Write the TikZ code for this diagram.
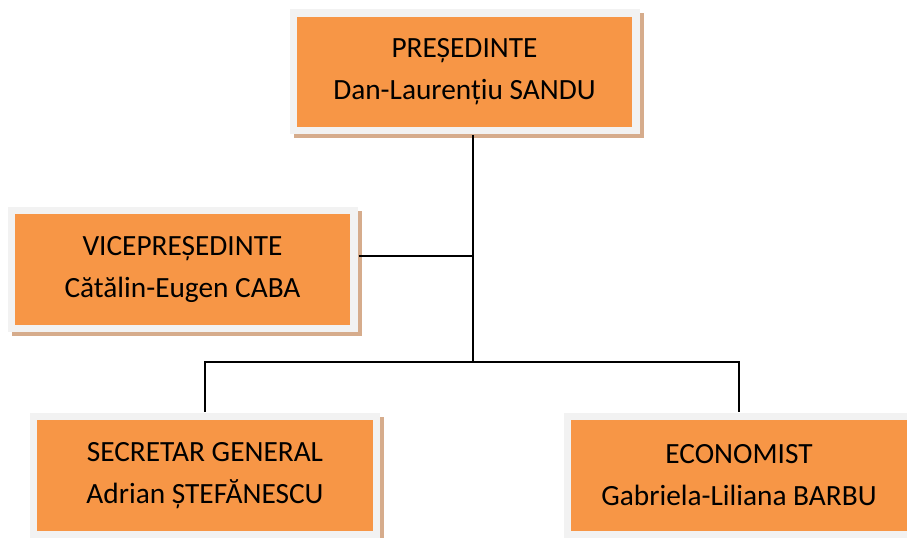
\documentclass[tikz,border=0pt]{standalone}
\usepackage{fontspec}
\setmainfont{Carlito}
\usetikzlibrary{shadows}
\definecolor{postorange}{RGB}{247,150,70}
\definecolor{framegray}{RGB}{242,242,242}
\definecolor{shadowtan}{RGB}{214,172,140}

\begin{document}
\begin{tikzpicture}[x=0.75pt,y=-0.75pt,line width=1.5pt,
  post node/.style={rectangle,fill=framegray,minimum width=262.5pt,minimum height=93.75pt,
    inner sep=0pt,align=center,font=\fontsize{22}{31.5}\selectfont,
    general shadow={fill=shadowtan,shadow xshift=3pt,shadow yshift=-3pt},
    path picture={\fill[postorange] ([shift={(5.6pt,-5.6pt)}]path picture bounding box.north west)
      rectangle ([shift={(-5.6pt,5.6pt)}]path picture bounding box.south east);}}]
  \useasboundingbox (0,0) rectangle (907,538);
  \clip (0,0) rectangle (907,538);

  \node[post node] (1) at (464.5,72) {PREȘEDINTE\\Dan-Laurențiu SANDU};
  \node[post node] (2) at (182.5,269.5) {VICEPREȘEDINTE\\Cătălin-Eugen CABA};
  \node[post node] (3) at (205,475.5) {SECRETAR GENERAL\\Adrian ȘTEFĂNESCU};
  \node[post node] (4) at (739,475.5) {ECONOMIST\\Gabriela-Liliana BARBU};

  \coordinate (j1) at (472.5,256);
  \coordinate (j2) at (472.5,362);

  \draw (1.south -| j1) -- (j2);
  \draw (2.east |- j1) -- (j1);
  \draw (3.north) -- (3.north |- j2) -- (4.north |- j2) -- (4.north);
\end{tikzpicture}
\end{document}
